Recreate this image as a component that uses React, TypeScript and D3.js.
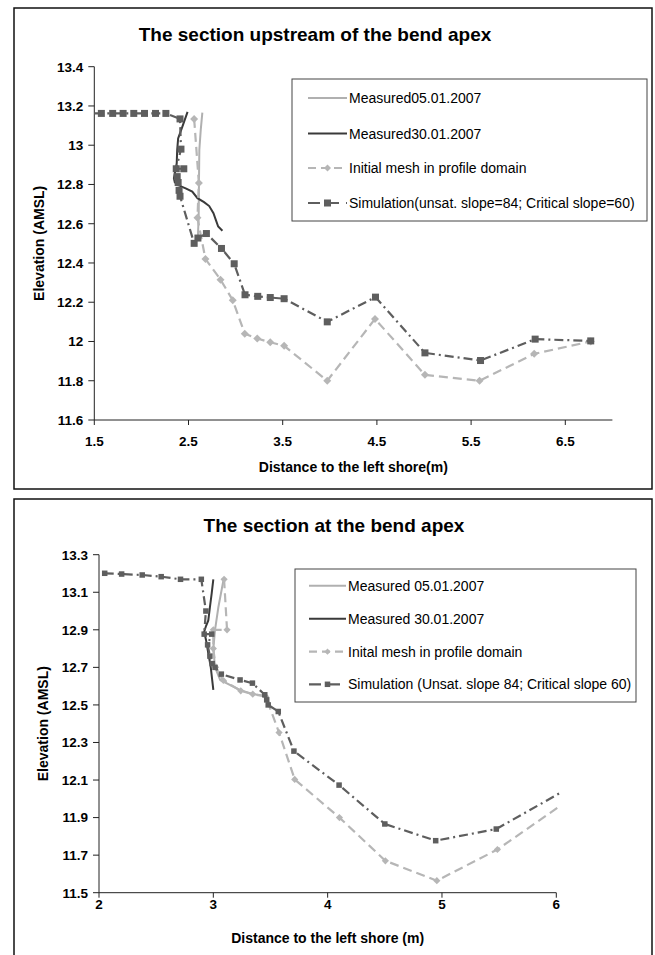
import React from "react";
import * as d3 from "d3";

// ---------- Top chart: section upstream of the bend apex ----------
const topTitle = "The section upstream of the bend apex";
const topXLabel = "Distance to the left shore(m)";
const topXTicks = ["1.5", "2.5", "3.5", "4.5", "5.5", "6.5"];
const topYTicks = ["11.6", "11.8", "12", "12.2", "12.4", "12.6", "12.8", "13", "13.2", "13.4"];
const topLegend = [
  "Measured05.01.2007",
  "Measured30.01.2007",
  "Initial mesh in profile domain",
  "Simulation(unsat. slope=84; Critical slope=60)",
];

const topMeas05X = [2.647, 2.63, 2.615, 2.611, 2.608, 2.6];
const topMeas05Y = [13.166, 13.078, 12.976, 12.807, 12.637, 12.535];

const topMeas30X = [2.49, 2.435, 2.39, 2.38, 2.375, 2.345, 2.355, 2.42, 2.47, 2.54, 2.595, 2.665, 2.72, 2.765, 2.79, 2.815, 2.86];
const topMeas30Y = [13.17, 13.095, 13.035, 12.976, 12.908, 12.832, 12.81, 12.79, 12.78, 12.764, 12.73, 12.71, 12.69, 12.654, 12.62, 12.586, 12.564];

const topInitX = [2.56, 2.61, 2.595, 2.68, 2.84, 2.97, 3.097, 3.23, 3.368, 3.515, 3.973, 4.48, 5.01, 5.59, 6.17, 6.77];
const topInitY = [13.134, 12.807, 12.63, 12.42, 12.315, 12.21, 12.04, 12.015, 11.996, 11.978, 11.8, 12.115, 11.83, 11.8, 11.937, 12.0];

const topSimX = [1.5, 1.575, 1.695, 1.806, 1.919, 2.033, 2.15, 2.26, 2.41, 2.42, 2.37, 2.45, 2.38, 2.39, 2.4, 2.41, 2.56, 2.6, 2.69, 2.85, 2.985, 3.1, 3.235, 3.368, 3.515, 3.973, 4.485, 5.01, 5.6, 6.18, 6.77];
const topSimY = [13.162, 13.162, 13.162, 13.162, 13.162, 13.162, 13.162, 13.162, 13.134, 12.98, 12.88, 12.88, 12.84, 12.81, 12.77, 12.74, 12.5, 12.527, 12.55, 12.474, 12.396, 12.238, 12.23, 12.224, 12.218, 12.1, 12.226, 11.942, 11.903, 12.012, 12.003];

// ---------- Bottom chart: section at the bend apex ----------
const botTitle = "The section at the bend apex";
const botXLabel = "Distance to the left shore (m)";
const botXTicks = ["2", "3", "4", "5", "6"];
const botYTicks = ["11.5", "11.7", "11.9", "12.1", "12.3", "12.5", "12.7", "12.9", "13.1", "13.3"];
const botLegend = [
  "Measured 05.01.2007",
  "Measured 30.01.2007",
  "Inital mesh in profile domain",
  "Simulation (Unsat. slope 84; Critical slope 60)",
];

const botMeas05X = [3.09, 3.044, 3.015, 3.0, 3.015, 3.06, 3.23, 3.35, 3.46, 3.5];
const botMeas05Y = [13.169, 13.02, 12.9, 12.8, 12.7, 12.633, 12.58, 12.557, 12.548, 12.49];

const botMeas30X = [3.0, 2.986, 2.97, 2.956, 2.936, 2.92, 2.936, 2.956, 2.977, 2.99, 3.0];
const botMeas30Y = [13.169, 13.095, 13.02, 12.95, 12.92, 12.89, 12.846, 12.775, 12.704, 12.633, 12.58];

const botInitX = [3.094, 3.12, 3.0, 3.0, 3.02, 3.088, 3.24, 3.345, 3.458, 3.575, 3.712, 4.103, 4.505, 4.955, 5.485, 6.04];
const botInitY = [13.169, 12.9, 12.9, 12.8, 12.7, 12.63, 12.575, 12.557, 12.545, 12.353, 12.103, 11.9, 11.67, 11.564, 11.73, 11.965];

const botSimX = [2.05, 2.198, 2.378, 2.544, 2.713, 2.895, 2.935, 2.92, 2.986, 2.95, 2.97, 2.99, 3.015, 3.07, 3.234, 3.342, 3.45, 3.467, 3.48, 3.568, 3.705, 4.1, 4.5, 4.945, 5.475, 6.03];
const botSimY = [13.201, 13.197, 13.192, 13.183, 13.169, 13.169, 13.0, 12.877, 12.877, 12.82, 12.76, 12.72, 12.7, 12.664, 12.633, 12.616, 12.554, 12.527, 12.5, 12.465, 12.254, 12.073, 11.866, 11.777, 11.839, 12.03];

const FONT = "'Liberation Sans', Arial, Helvetica, sans-serif";
const C_SIM = "#5e5e5e";
const C_M30 = "#3a3a3a";
const C_M05 = "#b0b0b0";
const C_INIT = "#b6b6b6";

type Series = { xs: number[]; ys: number[] };

function Panel(props: any) {
  const {
    box, title, titleX, titleY, xDomain, xRange, yDomain, yRange, xTicks, yTicks,
    xLabel, xLabelY, xTickY, yLabelX, legend, legendBox, legendRows, legendOff,
    meas05, meas30, init, sim, sq, dm, simDash, initDash,
  } = props;
  const x = d3.scaleLinear().domain(xDomain).range(xRange);
  const y = d3.scaleLinear().domain(yDomain).range(yRange);
  const line = (s: Series) =>
    d3.line<number>().x((_, i) => x(s.xs[i])).y((_, i) => y(s.ys[i]))(s.xs.map((_, i) => i)) || "";
  const inside = (v: number) => v > xDomain[0] + 0.01 && v < xDomain[1] - 0.01;
  const x0 = xRange[0];
  const yB = yRange[0];
  const diamond = (cx: number, cy: number, r: number) =>
    `M${cx},${cy - r}L${cx + r},${cy}L${cx},${cy + r}L${cx - r},${cy}Z`;
  const legendLine = (i: number) => legendRows[i];
  const lx1 = legendBox.x + legendOff[0];
  const lx2 = legendBox.x + legendOff[1];
  const ltx = legendBox.x + legendOff[2];
  const lmid = (lx1 + lx2) / 2;
  return (
    <g>
      <rect x={box.x} y={box.y} width={box.w} height={box.h} fill="#fff" stroke="#111" strokeWidth={1.5} />
      <text x={titleX} y={titleY} textAnchor="middle" fontFamily={FONT} fontWeight="bold" fontSize={19}>{title}</text>
      {/* axes */}
      <line x1={x0} x2={x0} y1={yRange[1]} y2={yB} stroke="#222" strokeWidth={1} />
      <line x1={x0} x2={xRange[1]} y1={yB} y2={yB} stroke="#222" strokeWidth={1} />
      {yTicks.map((t: string) => (
        <g key={"y" + t}>
          <line x1={x0 - 6} x2={x0} y1={y(+t)} y2={y(+t)} stroke="#222" />
          <text x={x0 - 11} y={y(+t)} dy="0.36em" textAnchor="end" fontFamily={FONT} fontWeight="bold" fontSize={13.5}>{t}</text>
        </g>
      ))}
      {xTicks.map((t: string) => (
        <g key={"x" + t}>
          <line x1={x(+t)} x2={x(+t)} y1={yB} y2={yB + 5} stroke="#222" />
          <text x={x(+t)} y={xTickY} textAnchor="middle" fontFamily={FONT} fontWeight="bold" fontSize={13.5}>{t}</text>
        </g>
      ))}
      <text x={(xRange[0] + xRange[1]) / 2} y={xLabelY} textAnchor="middle" fontFamily={FONT} fontWeight="bold" fontSize={14}>{xLabel}</text>
      <text transform={`translate(${yLabelX},${(yRange[0] + yRange[1]) / 2}) rotate(-90)`} textAnchor="middle" fontFamily={FONT} fontWeight="bold" fontSize={14}>Elevation (AMSL)</text>
      {/* series */}
      <path d={line(meas05)} fill="none" stroke={C_M05} strokeWidth={2} />
      <path d={line(meas30)} fill="none" stroke={C_M30} strokeWidth={2} />
      <path d={line(init)} fill="none" stroke={C_INIT} strokeWidth={2.2} strokeDasharray={initDash} />
      {init.xs.map((v: number, i: number) =>
        inside(v) ? <path key={"d" + i} d={diamond(x(v), y(init.ys[i]), dm)} fill={C_INIT} /> : null
      )}
      <path d={line(sim)} fill="none" stroke={C_SIM} strokeWidth={2.2} strokeDasharray={simDash} />
      {sim.xs.map((v: number, i: number) =>
        inside(v) ? <rect key={"s" + i} x={x(v) - sq / 2} y={y(sim.ys[i]) - sq / 2} width={sq} height={sq} fill={C_SIM} /> : null
      )}
      {/* legend */}
      <rect x={legendBox.x} y={legendBox.y} width={legendBox.w} height={legendBox.h} fill="#fff" stroke="#444" strokeWidth={1} />
      <line x1={lx1} x2={lx2} y1={legendLine(0)} y2={legendLine(0)} stroke={C_M05} strokeWidth={2} />
      <line x1={lx1} x2={lx2} y1={legendLine(1)} y2={legendLine(1)} stroke={C_M30} strokeWidth={2} />
      <line x1={lx1} x2={lx2} y1={legendLine(2)} y2={legendLine(2)} stroke={C_INIT} strokeWidth={2.2} strokeDasharray="8,5" />
      <path d={diamond(lmid, legendLine(2), dm - 0.5)} fill={C_INIT} />
      <line x1={lx1} x2={lx2} y1={legendLine(3)} y2={legendLine(3)} stroke={C_SIM} strokeWidth={2.2} strokeDasharray="12,7" />
      <rect x={lmid - sq / 2} y={legendLine(3) - sq / 2} width={sq} height={sq} fill={C_SIM} />
      {legend.map((t: string, i: number) => (
        <text key={"l" + i} x={ltx} y={legendLine(i)} dy="0.36em" fontFamily={FONT} fontSize={14}>{t}</text>
      ))}
    </g>
  );
}

export default function App() {
  return (
    <svg width={655} height={955} style={{ position: "absolute", left: 0, top: 0, background: "#fff" }}>
      <rect x={0} y={0} width={655} height={955} fill="#fff" />
      <Panel
        box={{ x: 14, y: 8, w: 638, h: 481 }}
        title={topTitle} titleX={315} titleY={41}
        xDomain={[1.5, 7]} xRange={[94.3, 612.4]}
        yDomain={[11.6, 13.4]} yRange={[420, 66.7]}
        xTicks={topXTicks} yTicks={topYTicks}
        xLabel={topXLabel} xLabelY={471.5} xTickY={445.5} yLabelX={44}
        legend={topLegend}
        legendBox={{ x: 292, y: 79, w: 355, h: 142 }}
        legendRows={[98, 133.5, 168, 203]}
        legendOff={[16, 55, 57]}
        meas05={{ xs: topMeas05X, ys: topMeas05Y }}
        meas30={{ xs: topMeas30X, ys: topMeas30Y }}
        init={{ xs: topInitX, ys: topInitY }}
        sim={{ xs: topSimX, ys: topSimY }}
        sq={7} dm={4} simDash="9,4,2,4" initDash="9,5"
      />
      <Panel
        box={{ x: 14, y: 499, w: 638, h: 470 }}
        title={botTitle} titleX={334} titleY={532}
        xDomain={[2, 6]} xRange={[99, 556.3]}
        yDomain={[11.5, 13.3]} yRange={[892.7, 554.7]}
        xTicks={botXTicks} yTicks={botYTicks}
        xLabel={botXLabel} xLabelY={943} xTickY={909} yLabelX={48}
        legend={botLegend}
        legendBox={{ x: 295, y: 569, w: 341, h: 133 }}
        legendRows={[585.7, 618.7, 651.7, 684.3]}
        legendOff={[14, 51, 53]}
        meas05={{ xs: botMeas05X, ys: botMeas05Y }}
        meas30={{ xs: botMeas30X, ys: botMeas30Y }}
        init={{ xs: botInitX, ys: botInitY }}
        sim={{ xs: botSimX, ys: botSimY }}
        sq={5.5} dm={3.6} simDash="9,4,2,4" initDash="9,5"
      />
    </svg>
  );
}
